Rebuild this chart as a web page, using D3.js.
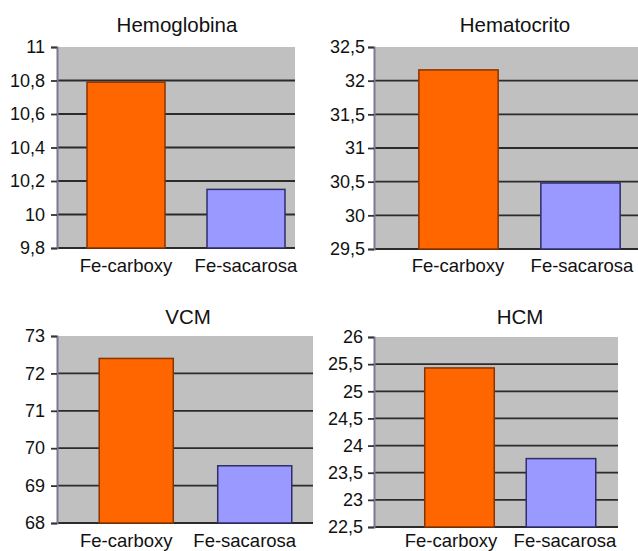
<!DOCTYPE html>
<html>
<head>
<meta charset="utf-8">
<script src="https://cdn.jsdelivr.net/npm/d3@7"></script>
<style>
  html, body { margin: 0; padding: 0; background: #ffffff; }
  svg { display: block; }
  text { font-family: "Liberation Sans", Arial, sans-serif; fill: #111; }
</style>
</head>
<body>
<svg id="chart" width="638" height="551"></svg>
<script>
// ---- Data ----
const categories = ["Fe-carboxy", "Fe-sacarosa"];
const titles = ["Hemoglobina", "Hematocrito", "VCM", "HCM"];
const hemoglobina = [10.79, 10.15];
const hematocrito = [32.16, 30.48];
const vcm = [72.4, 69.53];
const hcm = [25.43, 23.76];
const hemoglobinaTicks = [9.8, 10, 10.2, 10.4, 10.6, 10.8, 11];
const hematocritoTicks = [29.5, 30, 30.5, 31, 31.5, 32, 32.5];
const vcmTicks = [68, 69, 70, 71, 72, 73];
const hcmTicks = [22.5, 23, 23.5, 24, 24.5, 25, 25.5, 26];
const barColors = ["#ff6600", "#9999ff"];

// ---- Layout ----
const panels = [
  { title: titles[0], values: hemoglobina, ticks: hemoglobinaTicks,
    axisX: 57, right: 295, top: 47, bottom: 248, pad: 6,
    band: [66, 306], barFrac: 0.65, labelBand: [66, 306],
    titleX: 177, titleY: 32, labelY: 272 },
  { title: titles[1], values: hematocrito, ticks: hematocritoTicks,
    axisX: 374, right: 638, top: 47, bottom: 249, pad: 3,
    band: [397.5, 641.5], barFrac: 0.65, labelBand: [396, 644],
    titleX: 515, titleY: 32, labelY: 272 },
  { title: titles[2], values: vcm, ticks: vcmTicks,
    axisX: 57, right: 313, top: 336, bottom: 523, pad: 6,
    band: [77, 314], barFrac: 0.625, labelBand: [67, 304],
    titleX: 188, titleY: 324, labelY: 547 },
  { title: titles[3], values: hcm, ticks: hcmTicks,
    axisX: 374, right: 618, top: 337, bottom: 527, pad: 5,
    band: [408.75, 611.75], barFrac: 0.685, labelBand: [394, 622],
    titleX: 520, titleY: 324, labelY: 547 }
];

const locale = d3.formatLocale({ decimal: ",", thousands: ".", grouping: [3], currency: ["", "€"] });
const fmt = locale.format("~f");

const svg = d3.select("#chart");

panels.forEach(p => {
  const g = svg.append("g");
  const dom = d3.extent(p.ticks);
  const y = d3.scaleLinear().domain(dom).range([p.bottom, p.top]);
  const x = d3.scaleBand().domain(categories).range(p.band).padding(0);
  const xl = d3.scaleBand().domain(categories).range(p.labelBand).padding(0);

  // plot background
  g.append("rect")
    .attr("x", p.axisX).attr("y", p.top)
    .attr("width", p.right - p.axisX).attr("height", p.bottom - p.top)
    .attr("fill", "#c0c0c0");

  // gridlines (all but the top one)
  g.selectAll("line.grid")
    .data(p.ticks.filter(t => t !== dom[1]))
    .join("line")
    .attr("class", "grid")
    .attr("x1", p.axisX).attr("x2", p.right)
    .attr("y1", d => y(d)).attr("y2", d => y(d))
    .attr("stroke", "#2b2b2b").attr("stroke-width", 1.8);

  // bars
  const bw = x.bandwidth() * p.barFrac;
  g.selectAll("rect.bar")
    .data(p.values)
    .join("rect")
    .attr("class", "bar")
    .attr("x", (d, i) => x(categories[i]) + (x.bandwidth() - bw) / 2)
    .attr("y", d => y(d))
    .attr("width", bw)
    .attr("height", d => p.bottom - y(d))
    .attr("fill", (d, i) => barColors[i])
    .attr("stroke", (d, i) => i === 0 ? "#8a3300" : "#2e2e6a")
    .attr("stroke-width", 1.5);

  // y axis
  const axis = d3.axisLeft(y)
    .tickValues(p.ticks)
    .tickFormat(fmt)
    .tickSize(6)
    .tickPadding(p.pad);
  const ag = g.append("g")
    .attr("transform", `translate(${p.axisX},0)`)
    .call(axis);
  ag.select(".domain").attr("stroke", "#7b7896").attr("stroke-width", 2);
  ag.selectAll(".tick line").attr("stroke", "#333").attr("stroke-width", 1.8);
  ag.selectAll(".tick text")
    .attr("font-size", 18)
    .attr("font-family", "Liberation Sans, Arial, sans-serif")
    .attr("fill", "#111");

  // category labels
  g.selectAll("text.cat")
    .data(categories)
    .join("text")
    .attr("class", "cat")
    .attr("x", d => xl(d) + xl.bandwidth() / 2)
    .attr("y", p.labelY)
    .attr("text-anchor", "middle")
    .attr("font-size", 18.5)
    .text(d => d);

  // title
  g.append("text")
    .attr("x", p.titleX).attr("y", p.titleY)
    .attr("text-anchor", "middle")
    .attr("font-size", 20.5)
    .text(p.title);
});
</script>
</body>
</html>
